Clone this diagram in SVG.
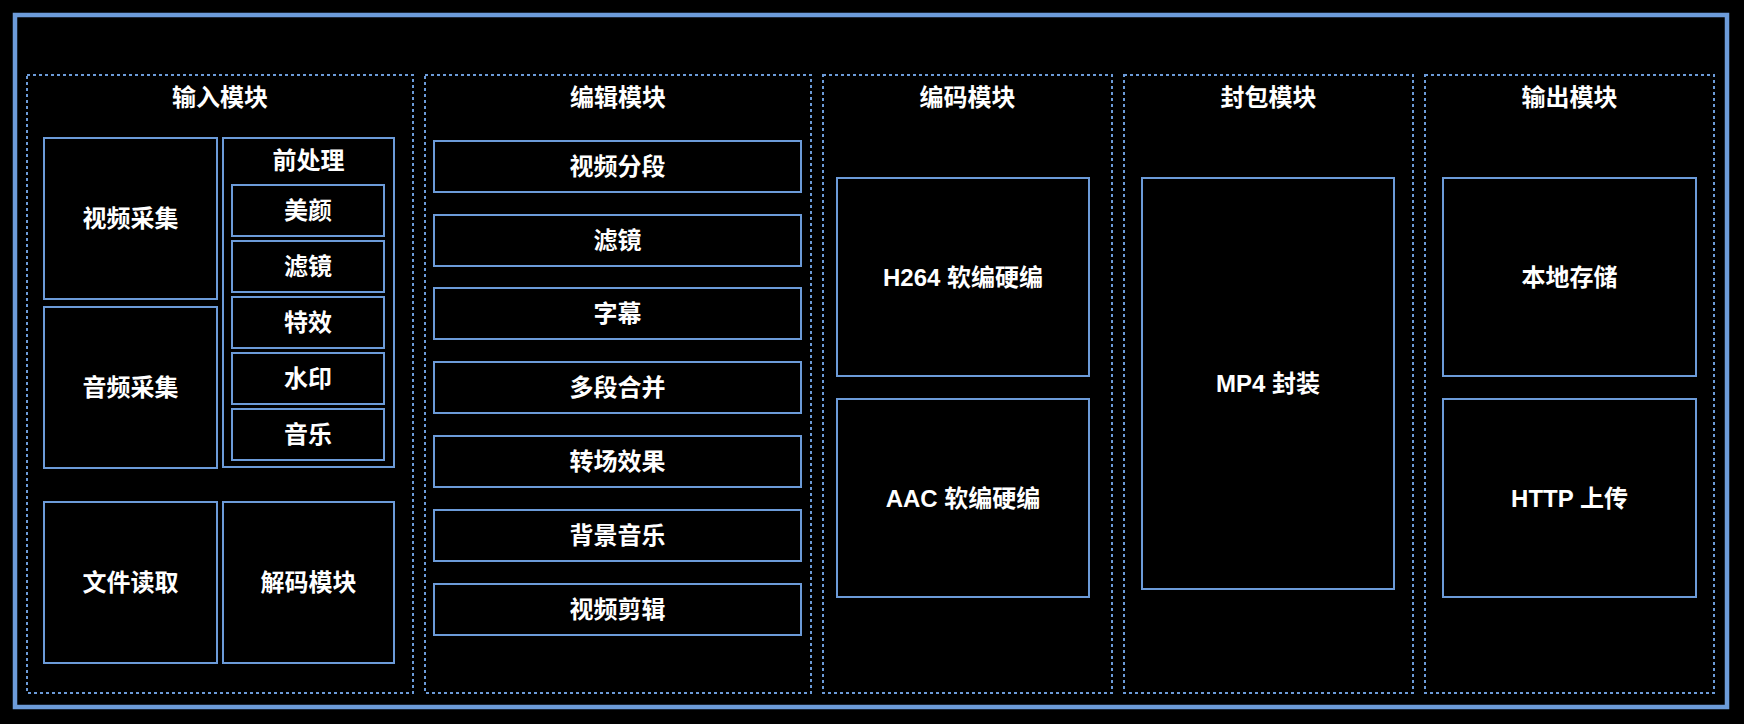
<svg xmlns="http://www.w3.org/2000/svg" width="1744" height="724" viewBox="0 0 1744 724">
<style>
.bg{fill:#000}
.frame{fill:none;stroke:#6c9bd9;stroke-width:4.5}
.mod{fill:none;stroke:#6c9bd9;stroke-width:2;stroke-dasharray:3 3}
.box{fill:#000;stroke:#6c9bd9;stroke-width:2}
.t{fill:#fff;font-family:"Liberation Sans","Noto Sans CJK SC",sans-serif;font-weight:bold;font-size:24px;text-anchor:middle;dominant-baseline:central}
</style>
<rect class="bg" x="0" y="0" width="1744" height="724"/>
<rect id="frame" class="frame" x="15" y="15" width="1712" height="692"/>

<g id="input-module">
<rect class="mod" x="27" y="75" width="386" height="618"/>
<text class="t" x="220" y="97">输入模块</text>
</g>
<g id="video-capture"><rect class="box" x="44" y="138" width="173" height="161"/><text class="t" x="130.5" y="218.5">视频采集</text></g>
<g id="audio-capture"><rect class="box" x="44" y="307" width="173" height="161"/><text class="t" x="130.5" y="387.5">音频采集</text></g>
<g id="preprocess"><rect class="box" x="223" y="138" width="171" height="329"/><text class="t" x="308.5" y="160">前处理</text></g>
<g id="beauty"><rect class="box" x="232" y="185" width="152" height="51"/><text class="t" x="308" y="210.5">美颜</text></g>
<g id="filter1"><rect class="box" x="232" y="241" width="152" height="51"/><text class="t" x="308" y="266.5">滤镜</text></g>
<g id="effects"><rect class="box" x="232" y="297" width="152" height="51"/><text class="t" x="308" y="322.5">特效</text></g>
<g id="watermark"><rect class="box" x="232" y="353" width="152" height="51"/><text class="t" x="308" y="378.5">水印</text></g>
<g id="music"><rect class="box" x="232" y="409" width="152" height="51"/><text class="t" x="308" y="434.5">音乐</text></g>
<g id="file-read"><rect class="box" x="44" y="502" width="173" height="161"/><text class="t" x="130.5" y="582.5">文件读取</text></g>
<g id="decode"><rect class="box" x="223" y="502" width="171" height="161"/><text class="t" x="308.5" y="582.5">解码模块</text></g>

<g id="edit-module">
<rect class="mod" x="425" y="75" width="386" height="618"/>
<text class="t" x="618" y="97">编辑模块</text>
</g>
<g id="segment"><rect class="box" x="434" y="141" width="367" height="51"/><text class="t" x="617.5" y="166.5">视频分段</text></g>
<g id="filter2"><rect class="box" x="434" y="215" width="367" height="51"/><text class="t" x="617.5" y="240.5">滤镜</text></g>
<g id="subtitle"><rect class="box" x="434" y="288" width="367" height="51"/><text class="t" x="617.5" y="313.5">字幕</text></g>
<g id="merge"><rect class="box" x="434" y="362" width="367" height="51"/><text class="t" x="617.5" y="387.5">多段合并</text></g>
<g id="transition"><rect class="box" x="434" y="436" width="367" height="51"/><text class="t" x="617.5" y="461.5">转场效果</text></g>
<g id="bgm"><rect class="box" x="434" y="510" width="367" height="51"/><text class="t" x="617.5" y="535.5">背景音乐</text></g>
<g id="clip"><rect class="box" x="434" y="584" width="367" height="51"/><text class="t" x="617.5" y="609.5">视频剪辑</text></g>

<g id="encode-module">
<rect class="mod" x="823" y="75" width="289" height="618"/>
<text class="t" x="967.5" y="97">编码模块</text>
</g>
<g id="h264"><rect class="box" x="837" y="178" width="252" height="198"/><text class="t" x="963" y="277">H264 软编硬编</text></g>
<g id="aac"><rect class="box" x="837" y="399" width="252" height="198"/><text class="t" x="963" y="498">AAC 软编硬编</text></g>

<g id="mux-module">
<rect class="mod" x="1124" y="75" width="289" height="618"/>
<text class="t" x="1268.5" y="97">封包模块</text>
</g>
<g id="mp4"><rect class="box" x="1142" y="178" width="252" height="411"/><text class="t" x="1268" y="383.5">MP4 封装</text></g>

<g id="output-module">
<rect class="mod" x="1425" y="75" width="289" height="618"/>
<text class="t" x="1569.5" y="97">输出模块</text>
</g>
<g id="local-storage"><rect class="box" x="1443" y="178" width="253" height="198"/><text class="t" x="1569.5" y="277">本地存储</text></g>
<g id="http-upload"><rect class="box" x="1443" y="399" width="253" height="198"/><text class="t" x="1569.5" y="498">HTTP 上传</text></g>

<g id="connectors"/>
</svg>
